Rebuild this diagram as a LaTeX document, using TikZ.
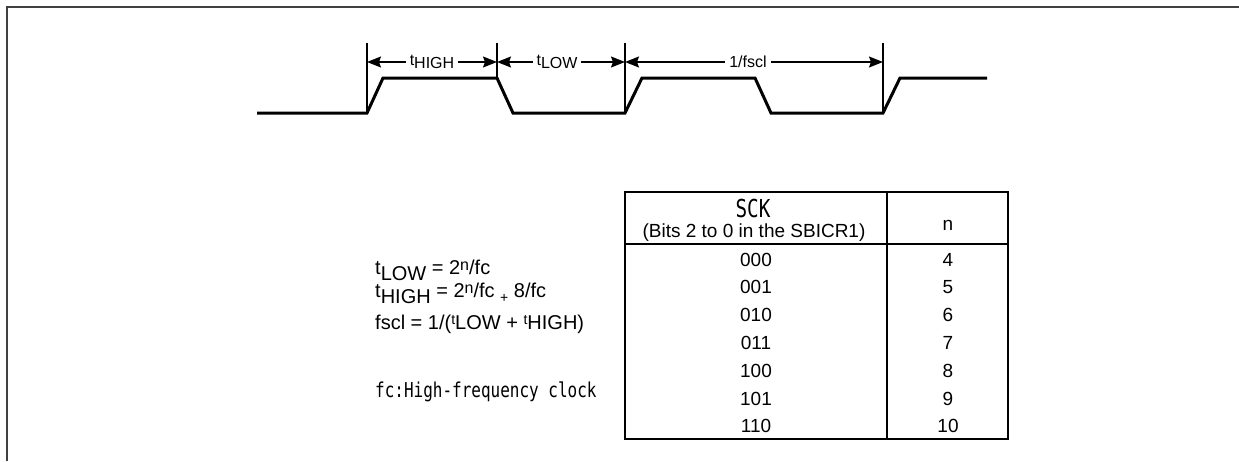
\documentclass[tikz,border=0pt]{standalone}
\usepackage{fontspec}
\setmainfont{Liberation Sans}
\newfontfamily\gothic{DejaVu Sans Mono}[FakeStretch=0.78]
\usetikzlibrary{arrows.meta,positioning}

\tikzset{
  signal/.style={line width=3pt, line join=miter},
  marker/.style={line width=1.5pt},
  dimline/.style={line width=1.5pt,
    {Stealth[length=14pt,width=11pt,inset=2pt]}-{Stealth[length=14pt,width=11pt,inset=2pt]}},
  dimlabel/.style={fill=white, inner sep=4pt, font=\fontsize{16}{19}\selectfont},
  cell/.style={font=\fontsize{19}{22}\selectfont, inner sep=0pt, anchor=base},
  formula/.style={font=\fontsize{20}{23}\selectfont, inner sep=0pt, anchor=base west},
  grid/.style={line width=2pt},
  frame/.style={line width=2pt, gray!50!black}
}

\begin{document}
\begin{tikzpicture}[x=1pt,y=-1pt]
    \useasboundingbox (0,0) rectangle (1239,461);
    % outer frame (cut at right and bottom)
    \draw[frame] (7,461) -- (7,7) -- (1239,7);

    % clock waveform
    \coordinate (w0) at (257,113);
    \coordinate (r1) at (367,113); \coordinate (h1) at (383,78);
    \coordinate (f1) at (497,78);  \coordinate (l1) at (513,113);
    \coordinate (r2) at (625,113); \coordinate (h2) at (642,78);
    \coordinate (f2) at (755,78);  \coordinate (l2) at (771,113);
    \coordinate (r3) at (883,113); \coordinate (h3) at (900,78);
    \coordinate (w1) at (987,78);
    \draw[signal] (w0) -- (r1) -- (h1) -- (f1) -- (l1) -- (r2) -- (h2)
        -- (f2) -- (l2) -- (r3) -- (h3) -- (w1);

    % timing markers
    \coordinate (m1) at (367,43);
    \coordinate (m2) at (497,43);
    \coordinate (m3) at (625,43);
    \coordinate (m4) at (883,43);
    \draw[marker] (m1) -- (r1);
    \draw[marker] (m2) -- (f1);
    \draw[marker] (m3) -- (r2);
    \draw[marker] (m4) -- (r3);

    \coordinate (d1) at (367,62);
    \coordinate (d2) at (497,62);
    \coordinate (d3) at (625,62);
    \coordinate (d4) at (883,62);
    \draw[dimline] (d1) -- node[dimlabel] (thigh) {t\raisebox{-3pt}{HIGH}} (d2);
    \draw[dimline] (d2) -- node[dimlabel, xshift=-4pt] (tlow) {t\raisebox{-3pt}{LOW}} (d3);
    \draw[dimline] (d3) -- node[dimlabel, xshift=-6pt] (fscl) {1/fscl} (d4);

    % formulas
    \node[formula] (eqlow) at (375,274)
        {t\raisebox{-6pt}{LOW} = 2\raisebox{4pt}{\fontsize{16}{16}\selectfont n}/fc};
    \node[formula] (eqhigh) at (375,297)
        {t\raisebox{-6pt}{HIGH} = 2\raisebox{4pt}{\fontsize{16}{16}\selectfont n}/fc
         \raisebox{-5pt}{\fontsize{14}{14}\selectfont +} 8/fc};
    \node[formula] (eqfscl) at (375,329)
        {fscl = 1/(\raisebox{5pt}{\fontsize{14}{14}\selectfont t}LOW +
         \raisebox{5pt}{\fontsize{14}{14}\selectfont t}HIGH)};
    \node[formula] (fcnote) at (375,397)
        {\gothic\fontsize{20.5}{22}\selectfont fc:High-frequency clock};

    % SCK table
    \coordinate (tl) at (625,192);
    \coordinate (br) at (1008,439);
    \draw[grid] (tl) rectangle (br);
    \draw[grid] (887,192) -- (887,439);
    \draw[grid] (625,244) -- (1008,244);
    \node[cell] (sck) at (753,217) {\gothic\fontsize{24.7}{26}\selectfont SCK};
    \node[cell] (bits) at (754,237) {(Bits 2 to 0 in the SBICR1)};
    \node[cell] (nhead) at (948,230) {n};
    \foreach \code/\nval [count=\i from 0] in
        {000/4,001/5,010/6,011/7,100/8,101/9,110/10}
    {
        \node[cell] (code\i) at (756,266+27.8*\i) {\code};
        \node[cell] (n\i) at (948,266+27.8*\i) {\nval};
    }
\end{tikzpicture}
\end{document}
